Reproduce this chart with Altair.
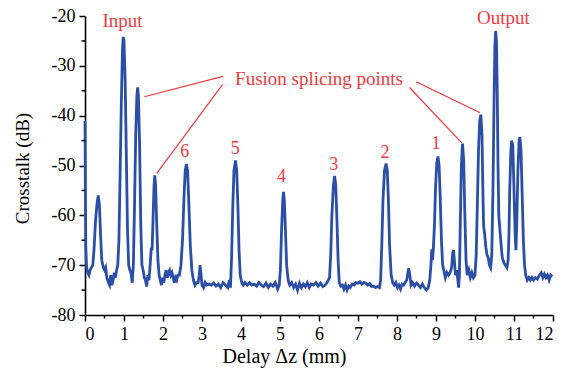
import altair as alt
import pandas as pd

# ---- data ----
delay_mm = [
    0.00, 0.01, 0.02, 0.04, 0.07, 0.10, 0.13, 0.16, 0.20, 0.23, 0.27, 0.31, 0.34, 0.37, 0.40, 0.43,
    0.47, 0.50, 0.53, 0.56, 0.60, 0.63, 0.66, 0.69, 0.72, 0.75, 0.78, 0.81, 0.84, 0.87, 0.90, 0.93,
    0.96, 0.98, 1.00, 1.03, 1.06, 1.09, 1.12, 1.15, 1.18, 1.21, 1.24, 1.27, 1.30, 1.33, 1.35, 1.37,
    1.40, 1.43, 1.46, 1.49, 1.52, 1.55, 1.58, 1.61, 1.64, 1.67, 1.70, 1.72, 1.74, 1.77, 1.79, 1.81,
    1.84, 1.87, 1.90, 1.93, 1.96, 1.99, 2.02, 2.05, 2.08, 2.11, 2.14, 2.17, 2.20, 2.23, 2.26, 2.29,
    2.32, 2.35, 2.38, 2.42, 2.46, 2.50, 2.54, 2.57, 2.60, 2.63, 2.66, 2.70, 2.74, 2.78, 2.82, 2.86,
    2.90, 2.93, 2.95, 2.97, 3.00, 3.04, 3.08, 3.12, 3.18, 3.24, 3.30, 3.36, 3.42, 3.48, 3.54, 3.60,
    3.66, 3.70, 3.73, 3.76, 3.79, 3.82, 3.86, 3.89, 3.92, 3.95, 3.98, 4.02, 4.06, 4.10, 4.16, 4.22,
    4.28, 4.34, 4.40, 4.46, 4.52, 4.58, 4.64, 4.70, 4.76, 4.82, 4.88, 4.94, 4.98, 5.01, 5.04, 5.07,
    5.09, 5.11, 5.14, 5.17, 5.21, 5.25, 5.30, 5.35, 5.40, 5.45, 5.50, 5.55, 5.60, 5.65, 5.70, 5.75,
    5.80, 5.86, 5.92, 5.98, 6.04, 6.10, 6.16, 6.22, 6.27, 6.30, 6.33, 6.37, 6.40, 6.43, 6.46, 6.49,
    6.52, 6.56, 6.60, 6.64, 6.68, 6.72, 6.76, 6.80, 6.85, 6.90, 6.95, 7.00, 7.05, 7.10, 7.15, 7.20,
    7.25, 7.30, 7.35, 7.40, 7.45, 7.50, 7.55, 7.58, 7.61, 7.64, 7.68, 7.72, 7.75, 7.78, 7.81, 7.85,
    7.89, 7.93, 7.97, 8.01, 8.05, 8.09, 8.13, 8.17, 8.21, 8.25, 8.28, 8.30, 8.33, 8.36, 8.40, 8.45,
    8.50, 8.55, 8.60, 8.65, 8.70, 8.75, 8.80, 8.84, 8.87, 8.89, 8.91, 8.93, 8.96, 8.99, 9.02, 9.05,
    9.08, 9.11, 9.14, 9.17, 9.20, 9.24, 9.28, 9.32, 9.36, 9.40, 9.43, 9.45, 9.47, 9.50, 9.53, 9.56,
    9.58, 9.60, 9.62, 9.65, 9.68, 9.71, 9.74, 9.77, 9.80, 9.84, 9.88, 9.92, 9.96, 10.00, 10.03, 10.06,
    10.09, 10.12, 10.15, 10.18, 10.20, 10.22, 10.25, 10.28, 10.31, 10.34, 10.37, 10.40, 10.43, 10.46, 10.49, 10.51,
    10.53, 10.55, 10.57, 10.59, 10.61, 10.64, 10.67, 10.70, 10.74, 10.78, 10.82, 10.85, 10.87, 10.89, 10.92, 10.94,
    10.97, 11.00, 11.03, 11.05, 11.07, 11.10, 11.13, 11.15, 11.18, 11.21, 11.24, 11.27, 11.30, 11.34, 11.38, 11.42,
    11.46, 11.50, 11.55, 11.60, 11.65, 11.70, 11.74, 11.78, 11.82, 11.86, 11.90, 11.94, 11.98,
]
crosstalk_db = [
    -41.0, -55.0, -66.0, -70.5, -71.5, -72.0, -71.0, -70.5, -70.0, -67.0, -61.0, -57.5, -56.0, -58.0, -64.0, -69.0,
    -70.5, -71.0, -70.5, -72.5, -73.5, -74.0, -72.0, -74.0, -73.0, -71.5, -72.5, -71.0, -70.0, -65.0, -52.0, -38.0,
    -27.0, -24.2, -25.0, -33.0, -48.0, -63.0, -70.0, -71.0, -71.5, -73.5, -70.0, -58.0, -44.0, -36.0, -34.3, -36.0,
    -46.0, -62.0, -70.0, -71.0, -72.5, -73.0, -74.3, -72.0, -73.0, -70.0, -66.5, -67.0, -62.0, -54.0, -52.0, -54.0,
    -62.0, -69.0, -72.0, -73.0, -74.0, -72.5, -73.5, -72.0, -71.0, -72.5, -71.5, -71.0, -72.0, -71.5, -72.5, -73.5,
    -72.5, -73.0, -72.0, -72.0, -70.0, -65.0, -56.0, -51.0, -49.7, -51.0, -57.0, -66.0, -71.0, -73.0, -74.0, -73.5,
    -73.5, -72.0, -70.0, -71.5, -74.0, -74.5, -73.5, -74.0, -73.8, -74.0, -73.6, -74.2, -73.8, -74.5, -73.5, -74.0,
    -74.5, -73.0, -74.5, -68.0, -58.0, -51.0, -49.0, -51.0, -58.0, -67.0, -72.0, -73.5, -74.0, -73.5, -74.0, -73.5,
    -74.0, -73.8, -74.2, -73.5, -74.0, -74.3, -73.6, -74.5, -73.8, -74.2, -73.5, -74.8, -74.0, -71.0, -63.0, -57.0,
    -55.3, -57.0, -63.0, -70.0, -73.0, -74.0, -73.5, -74.5, -73.8, -75.0, -73.6, -74.5, -73.8, -74.3, -73.5, -74.5,
    -73.8, -74.0, -73.5, -74.2, -73.6, -74.3, -74.0, -73.3, -72.5, -68.0, -60.0, -54.0, -52.1, -54.0, -61.0, -69.0,
    -73.5, -74.2, -74.0, -74.8, -74.0, -75.0, -74.2, -74.5, -73.8, -74.0, -73.5, -73.6, -73.3, -73.8, -73.5, -73.6,
    -74.0, -73.7, -74.3, -74.2, -74.5, -74.3, -74.5, -73.0, -66.0, -57.0, -51.0, -49.6, -51.0, -57.0, -66.0, -72.0,
    -73.5, -74.0, -73.5, -74.5, -74.0, -74.8, -73.8, -74.0, -73.5, -73.0, -71.5, -70.6, -72.0, -74.0, -73.5, -74.2,
    -73.6, -74.0, -74.5, -73.8, -74.5, -75.0, -74.5, -73.0, -70.0, -66.8, -69.0, -67.0, -62.0, -54.0, -49.5, -48.2,
    -50.0, -57.0, -65.0, -70.0, -71.0, -72.5, -71.5, -72.0, -71.5, -70.5, -67.5, -67.0, -69.0, -72.0, -71.0, -73.0,
    -74.5, -72.0, -63.0, -50.0, -45.6, -49.0, -60.0, -69.0, -72.0, -71.0, -72.5, -71.5, -72.5, -72.0, -68.0, -58.0,
    -47.0, -41.0, -39.8, -44.0, -54.0, -62.0, -64.0, -66.5, -68.0, -68.5, -70.0, -70.5, -68.0, -55.0, -36.0, -26.0,
    -23.0, -25.0, -35.0, -50.0, -60.0, -63.0, -66.0, -68.5, -69.5, -70.0, -70.5, -69.0, -64.0, -55.0, -47.0, -45.0,
    -46.0, -55.0, -64.0, -67.0, -62.0, -51.0, -45.0, -44.3, -47.0, -56.0, -65.0, -70.0, -72.0, -73.0, -72.5, -73.0,
    -72.5, -73.0, -72.5, -72.8, -72.0, -71.5, -72.5, -71.8, -72.5, -72.0, -73.0, -72.0, -72.3,
]

x_ticks = list(range(0, 13))
y_ticks = [-80, -70, -60, -50, -40, -30, -20]
x_minor = [0.5, 1.5, 2.5, 3.5, 4.5, 5.5, 6.5, 7.5, 8.5, 9.5, 10.5, 11.5]
y_minor = [-75, -65, -55, -45, -35, -25]

label_text = ["Input", "Output", "Fusion splicing points", "6", "5", "4", "3", "2", "1"]
label_x = [0.96, 10.73, 6.0, 2.56, 3.85, 5.04, 6.38, 7.69, 9.0]
label_y = [-21.1, -20.5, -32.7, -47.3, -46.7, -52.4, -49.9, -47.4, -45.7]
label_size = [19, 19, 19, 18, 18, 18, 18, 18, 18]

# leader lines: from the "Fusion splicing points" label to the splice peaks
lead_x = [3.54, 3.53, 8.32, 8.49]
lead_y = [-32.1, -33.7, -34.35, -33.2]
lead_x2 = [1.52, 1.84, 9.66, 10.13]
lead_y2 = [-36.2, -51.6, -45.45, -39.4]

FONT = "Liberation Serif"
BLUE = "#2b4ea6"
RED = "#ee3a3f"

curve = pd.DataFrame({"x": delay_mm, "y": crosstalk_db})
labels = pd.DataFrame({"x": label_x, "y": label_y, "t": label_text, "s": label_size})
leads = pd.DataFrame({"x": lead_x, "y": lead_y, "x2": lead_x2, "y2": lead_y2})
xm = pd.DataFrame({"x": x_minor})
ym = pd.DataFrame({"y": y_minor})

xs = alt.Scale(domain=[0, 12], nice=False, zero=False)
ys = alt.Scale(domain=[-80, -20], nice=False, zero=False)

x_axis = alt.Axis(
    values=x_ticks, title="Delay Δz (mm)", grid=False,
    labelFont=FONT, labelFontSize=18, labelColor="black", labelPadding=4,
    labelExpr="'' + datum.value",
    tickColor="black", tickSize=6, tickWidth=1.5,
    domainColor="black", domainWidth=1.6,
    titleFont=FONT, titleFontSize=20, titleFontWeight="normal", titleColor="black",
    titleX=199, titleY=47, titleAlign="center", titleBaseline="alphabetic",
)
y_axis = alt.Axis(
    values=y_ticks, title="Crosstalk (dB)", grid=False,
    labelFont=FONT, labelFontSize=18, labelColor="black", labelPadding=4,
    labelExpr="'' + datum.value",
    tickColor="black", tickSize=6, tickWidth=1.5,
    domainColor="black", domainWidth=1.6,
    titleFont=FONT, titleFontSize=19, titleFontWeight="normal", titleColor="black",
    titleX=-63, titleY=152, titleAngle=270, titleAlign="center", titleBaseline="middle",
)

line = alt.Chart(curve).mark_line(color=BLUE, strokeWidth=2.8).encode(
    x=alt.X("x:Q", scale=xs, axis=x_axis),
    y=alt.Y("y:Q", scale=ys, axis=y_axis),
    order=alt.Order("x:Q"),
)

xminor = alt.Chart(xm).mark_rule(color="black", strokeWidth=1.5).encode(
    x=alt.X("x:Q", scale=xs, axis=x_axis),
    y=alt.value(299), y2=alt.value(302.5),
)
yminor = alt.Chart(ym).mark_rule(color="black", strokeWidth=1.5).encode(
    y=alt.Y("y:Q", scale=ys, axis=y_axis),
    x=alt.value(-3.5), x2=alt.value(0),
)

lead = alt.Chart(leads).mark_rule(color=RED, strokeWidth=1.2).encode(
    x=alt.X("x:Q", scale=xs, axis=x_axis),
    y=alt.Y("y:Q", scale=ys, axis=y_axis),
    x2="x2:Q", y2="y2:Q",
)

text = alt.Chart(labels).mark_text(font=FONT, color=RED, align="center", baseline="middle").encode(
    x=alt.X("x:Q", scale=xs, axis=x_axis),
    y=alt.Y("y:Q", scale=ys, axis=y_axis),
    text="t:N",
    size=alt.Size("s:Q", scale=None, legend=None),
)

chart = alt.layer(line, xminor, yminor, lead, text).properties(
    width=468, height=299,
    padding={"left": 85, "top": 16, "right": 17, "bottom": 53},
    autosize=alt.AutoSizeParams(type="none"),
    background="white",
).configure_view(stroke=None)

chart.save("out.html", embed_options={"renderer": "svg", "actions": False})
